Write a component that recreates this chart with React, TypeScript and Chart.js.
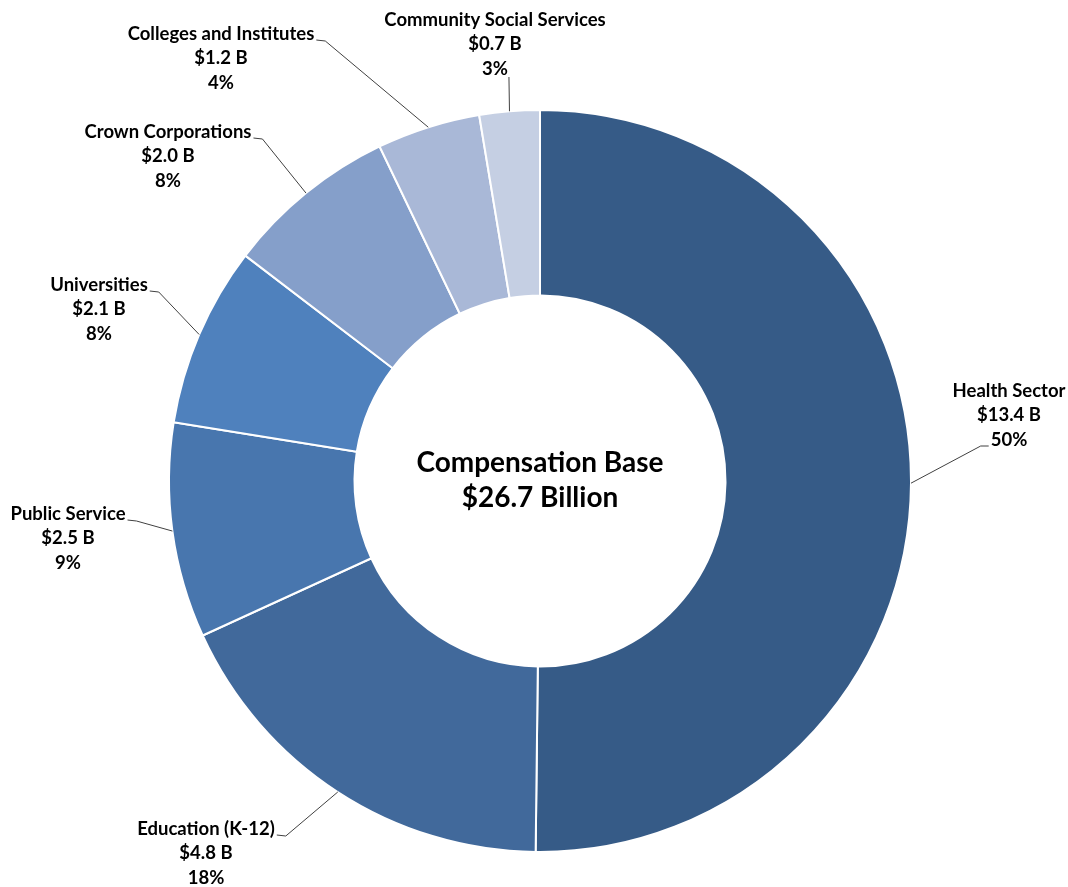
import React, { useEffect, useRef } from "react";
import { Chart, registerables } from "chart.js";

Chart.register(...registerables);

const categories = [
  "Health Sector",
  "Education (K-12)",
  "Public Service",
  "Universities",
  "Crown Corporations",
  "Colleges and Institutes",
  "Community Social Services",
];
const valuesBillions = [13.4, 4.8, 2.5, 2.1, 2.0, 1.2, 0.7];
const amountLabels = ["$13.4 B", "$4.8 B", "$2.5 B", "$2.1 B", "$2.0 B", "$1.2 B", "$0.7 B"];
const percentLabels = ["50%", "18%", "9%", "8%", "8%", "4%", "3%"];
const sliceColors = ["#365B87", "#41699B", "#4876AE", "#4F81BD", "#859FCA", "#A9B8D7", "#C5CFE3"];
const centerTitle = ["Compensation Base", "$26.7 Billion"];

// label layout (text centre x, first-line centre y, where the leader attaches)
const labelLayout = [
  { cx: 1009, y: 391, side: "left" },
  { cx: 206, y: 829, side: "right" },
  { cx: 68, y: 514, side: "right" },
  { cx: 99, y: 285, side: "right" },
  { cx: 168, y: 132, side: "right" },
  { cx: 221, y: 34, side: "right" },
  { cx: 495, y: 20, side: "bottom" },
];

const FONT = "Lato, 'Open Sans', sans-serif";
const LINE_H = 24.5;

const labelPlugin = {
  id: "leaderLabels",
  afterDraw(chart: any) {
    const ctx = chart.ctx as CanvasRenderingContext2D;
    const meta = chart.getDatasetMeta(0);
    ctx.save();
    ctx.textAlign = "center";
    ctx.textBaseline = "middle";
    ctx.fillStyle = "#000000";
    ctx.font = `bold 18.5px ${FONT}`;
    meta.data.forEach((arc: any, i: number) => {
      const p = arc.getProps(["x", "y", "startAngle", "endAngle", "outerRadius"], true);
      const mid = (p.startAngle + p.endAngle) / 2;
      const ax = p.x + Math.cos(mid) * p.outerRadius;
      const ay = p.y + Math.sin(mid) * p.outerRadius;
      const lay = labelLayout[i];
      const lines = [categories[i], amountLabels[i], percentLabels[i]];
      lines.forEach((t, k) => ctx.fillText(t, lay.cx, lay.y + k * LINE_H));
      let sx: number, sy: number, ex: number, ey: number;
      if (lay.side === "right") {
        const w = ctx.measureText(lines[0]).width;
        sx = lay.cx + w / 2 + 2;
        sy = lay.y + 6;
        ex = sx + 9;
        ey = sy + 1;
      } else if (lay.side === "left") {
        const w = ctx.measureText(lines[2]).width;
        sx = lay.cx - w / 2 - 2;
        sy = lay.y + 2 * LINE_H + 6;
        ex = sx - 8;
        ey = sy;
      } else {
        const w = ctx.measureText(lines[2]).width;
        sx = lay.cx + w / 2 + 1;
        sy = lay.y + 2 * LINE_H + 8;
        ex = sx;
        ey = sy;
      }
      ctx.beginPath();
      ctx.strokeStyle = "#404040";
      ctx.lineWidth = 1;
      ctx.moveTo(sx, sy);
      ctx.lineTo(ex, ey);
      ctx.lineTo(ax, ay);
      ctx.stroke();
    });
    // centre text
    const c = meta.data[0].getProps(["x", "y"], true);
    ctx.font = `bold 28px ${FONT}`;
    ctx.fillText(centerTitle[0], c.x, c.y - 18);
    ctx.fillText(centerTitle[1], c.x, c.y + 17);
    ctx.restore();
  },
};

export default function App() {
  const ref = useRef<HTMLCanvasElement | null>(null);
  useEffect(() => {
    if (!ref.current) return;
    const chart = new Chart(ref.current, {
      type: "doughnut",
      data: {
        labels: categories,
        datasets: [
          {
            data: valuesBillions,
            backgroundColor: sliceColors,
            borderColor: "#FFFFFF",
            borderWidth: 2,
          },
        ],
      },
      options: {
        animation: false,
        responsive: true,
        maintainAspectRatio: false,
        cutout: "50%",
        layout: { padding: { left: 168, right: 156, top: 109, bottom: 34 } },
        plugins: { legend: { display: false }, tooltip: { enabled: false } },
      },
      plugins: [labelPlugin],
    });
    return () => chart.destroy();
  }, []);
  return (
    <div style={{ position: "absolute", left: 0, top: 0, width: 1068, height: 887, background: "#FFFFFF" }}>
      <canvas ref={ref} />
    </div>
  );
}
